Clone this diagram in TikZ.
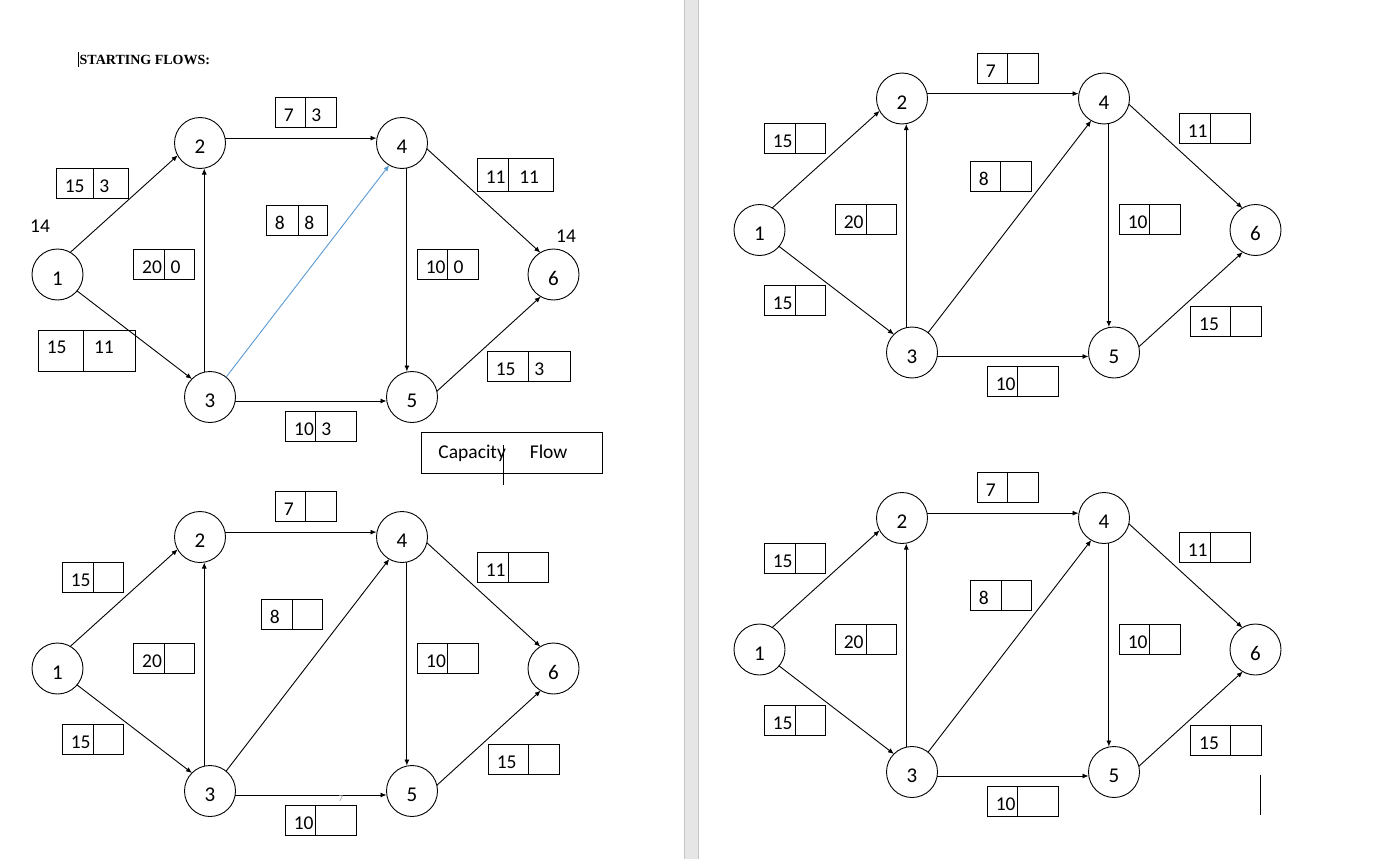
\documentclass[tikz,border=0pt]{standalone}
\usepackage{fontspec}
\setmainfont{Carlito}
\newfontfamily\headfont{Liberation Serif}
\usepackage{xcolor}
\usepackage{tikz}
\usetikzlibrary{arrows.meta}
\definecolor{flowblue}{HTML}{5B9BD5}
\definecolor{pagegray}{HTML}{E6E6E6}
\definecolor{rimgray}{HTML}{C4C4C4}
\definecolor{notegray}{HTML}{9A9A9A}
\tikzset{
  netnode/.style={draw,circle,minimum size=51pt,inner sep=0pt,outer sep=0pt,line width=0.9pt,font=\fontsize{21}{21}\selectfont,text height=21pt,text depth=0pt},
  netarrow/.style={-{Latex[length=6pt,width=5pt]},line width=0.9pt},
  cellbox/.style={draw,rectangle,inner sep=0pt,outer sep=0pt,line width=0.9pt,anchor=north west,font=\fontsize{19.5}{19.5}\selectfont,text height=18pt,text depth=0pt},
  plaintext/.style={inner sep=0pt,font=\fontsize{19.5}{19.5}\selectfont},
}

% options, name, x, y, capacity width, flow width, height, capacity, flow
\newcommand{\capbox}[9]{%
  \node[cellbox,minimum height=#7pt,#1] (#2c) at (#3,#4) {\makebox[#5pt][l]{\hspace{8.5pt}#8}};
  \node[cellbox,minimum height=#7pt,#1] (#2f) at (#2c.north east) {\makebox[#6pt][l]{\hspace{6pt}#9}};
}

% prefix, shift x, shift y, colour of 3-4
\newcommand{\flownet}[4]{%
  \begin{scope}[shift={(#2,#3)}]
    \node[netnode] (#1n1) at (57.5,274.5) {1};
    \node[netnode] (#1n2) at (200,143) {2};
    \node[netnode] (#1n3) at (210,397) {3};
    \node[netnode] (#1n4) at (402,143) {4};
    \node[netnode] (#1n5) at (412,397) {5};
    \node[netnode] (#1n6) at (553.5,274.5) {6};
    \draw[netarrow] (#1n1.60) -- (#1n2.209);
    \draw[netarrow] (#1n1.320) -- (#1n3.135);
    \draw[netarrow] (#1n3.103) -- (#1n3.103 |- #1n2.south);
    \draw[netarrow] (#1n2.11) -- (#1n2.11 -| #1n4.west);
    \draw[netarrow,draw=#4] (#1n3.51) -- (#1n4.240);
    \draw[netarrow] (#1n4.281) -- (#1n4.281 |- #1n5.north);
    \draw[netarrow] (#1n4.347) -- (#1n6.121);
    \draw[netarrow] (#1n3.351) -- (#1n3.351 -| #1n5.west);
    \draw[netarrow] (#1n5.13) -- (#1n6.240);
  \end{scope}}

\begin{document}
\begin{tikzpicture}[x=1pt,y=-1pt]
  \useasboundingbox (0,0) rectangle (1384,859);
  \fill[white] (0,0) rectangle (1384,859);
  % page gap
  \fill[pagegray] (684,0) rectangle (699,859);
  \draw[rimgray,line width=0.8pt] (684.4,0) -- (684.4,859) (698.6,0) -- (698.6,859);

  \node[anchor=base west,inner sep=0pt,font=\headfont\bfseries\fontsize{14}{14}\selectfont] (title) at (79.5,65) {STARTING FLOWS:};
  \draw[line width=0.7pt] (78.7,51.7) -- (78.7,66.7);

  \flownet{a}{0}{0}{flowblue}
  \flownet{b}{702}{-44.5}{black}
  \flownet{c}{0}{394}{black}
  \flownet{d}{702}{375}{black}

  % starting flows
  \capbox{}{a24}{275.3}{97.3}{30}{30.7}{30}{7}{3}
  \capbox{}{a12}{56.3}{168.3}{37}{35}{30}{15}{3}
  \capbox{}{a34}{266.3}{205}{32}{28.7}{30}{8}{8}
  \capbox{}{a32}{133.7}{249.3}{31}{29.6}{30}{20}{0}
  \capbox{text height=12pt,text depth=6pt}{a13}{38.3}{330.3}{44.7}{52.3}{41}{15}{\hspace{5pt}11}
  \capbox{}{a35}{285.7}{411.3}{29.6}{41}{30}{10}{3}
  \capbox{}{a46}{477.3}{158.3}{31}{45}{32.7}{11}{\hspace{5pt}11}
  \capbox{}{a45}{417.3}{249.3}{30.4}{30.6}{29.7}{10}{0}
  \capbox{}{a56}{487.3}{351}{41}{42}{30}{15}{3}
  \node[plaintext] (a14s) at (40,226.5) {14};
  \node[plaintext] (a14t) at (566,236.5) {14};

  \node[draw,line width=0.9pt,inner xsep=16.7pt,text width=147.6pt,align=left,minimum height=41pt,anchor=north west,font=\fontsize{19.5}{19.5}\selectfont] (legend) at (421.3,432.3) {Capacity\hspace{24pt}Flow};
  \draw[line width=0.9pt] ([xshift=-9pt]legend.south) ++(0,-29) -- ++(0,40);

  \capbox{}{b24}{977.3}{53.3}{30}{31}{30}{7}{}
  \capbox{}{b12}{764.3}{123.3}{31}{30}{30}{15}{}
  \capbox{}{b34}{970.3}{161.7}{30}{31}{29.6}{8}{}
  \capbox{}{b32}{835.3}{204.3}{31.4}{29.6}{29.7}{20}{}
  \capbox{}{b13}{764.3}{285.7}{31}{30}{29.6}{15}{}
  \capbox{}{b35}{987.3}{366.7}{30}{41}{29.3}{10}{}
  \capbox{}{b46}{1179.3}{113.3}{31}{40}{29.7}{11}{}
  \capbox{}{b45}{1119.3}{204.3}{30}{31}{29.7}{10}{}
  \capbox{}{b56}{1190.7}{306.7}{39.6}{31}{29.3}{15}{}

  \capbox{}{c24}{275.3}{491.7}{30}{30.7}{29.6}{7}{}
  \capbox{}{c12}{62.3}{562.3}{31}{30}{30}{15}{}
  \capbox{}{c34}{261.3}{599.3}{31.4}{29.6}{30}{8}{}
  \capbox{}{c32}{133.7}{643.3}{31}{29.6}{30}{20}{}
  \capbox{}{c13}{62.3}{724.3}{31}{30}{30}{15}{}
  \capbox{}{c35}{285.3}{805}{30.4}{40.6}{30.7}{10}{}
  \capbox{}{c46}{477.3}{552.3}{31}{40}{29.7}{11}{}
  \capbox{}{c45}{417.7}{643.3}{29.6}{31}{29.7}{10}{}
  \capbox{}{c56}{488.3}{744.3}{40}{31}{30}{15}{}
  \node[inner sep=0pt,text=notegray,font=\fontsize{9}{9}\selectfont] (c7) at (341,798.3) {7};

  \capbox{}{d24}{977.3}{472.3}{30}{31}{30}{7}{}
  \capbox{}{d12}{764.3}{543.3}{31}{30}{30}{15}{}
  \capbox{}{d34}{970.3}{580.7}{31.4}{29.6}{29.6}{8}{}
  \capbox{}{d32}{835.3}{624.3}{31.4}{29.6}{29.7}{20}{}
  \capbox{}{d13}{764.3}{705.7}{31}{30}{29.6}{15}{}
  \capbox{}{d35}{987.3}{786.7}{30}{41}{29.3}{10}{}
  \capbox{}{d46}{1179.3}{532.3}{31}{40}{29.7}{11}{}
  \capbox{}{d45}{1119.3}{624.3}{30}{31}{29.7}{10}{}
  \capbox{}{d56}{1190.7}{725.7}{39.6}{31}{29.6}{15}{}
  \draw[line width=0.9pt] ([xshift=-1.3pt]d56f.south east) ++(0,19.3) -- ++(0,40.7);
\end{tikzpicture}
\end{document}
